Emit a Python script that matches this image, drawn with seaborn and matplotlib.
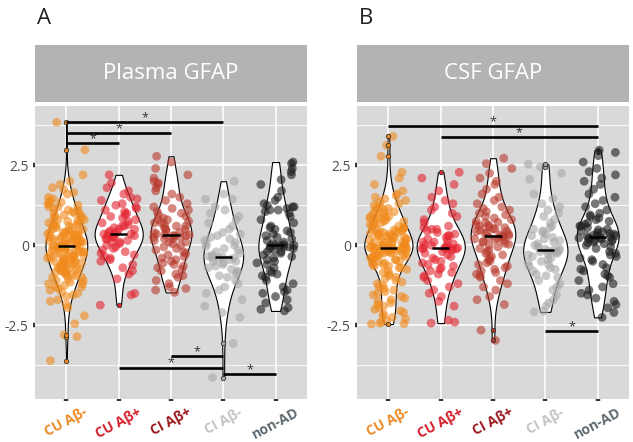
import numpy as np
import pandas as pd
import matplotlib.pyplot as plt
import seaborn as sns

# group order and colours
groups = ["CU Aβ-", "CU Aβ+", "CI Aβ+", "CI Aβ-", "non-AD"]
point_colors = ["#F08A1C", "#E3242F", "#B8392C", "#A8A8A8", "#1C1C1C"]
label_colors = ["#EE8A26", "#D61F2C", "#9B1A1F", "#C4C4C4", "#5E6A72"]
panel_titles = ["Plasma GFAP", "CSF GFAP"]
panel_letters = ["A", "B"]

# --- Plasma GFAP (z-scores) ---
plasma_cu_neg = [
    -3.6, -2.85, -2.8, -2.45, -2.2, -1.95, -1.85, -1.75, -1.7, -1.6,
    -1.55, -1.5, -1.45, -1.4, -1.35, -1.3, -1.3, -1.25, -1.2, -1.2,
    -1.15, -1.1, -1.1, -1.05, -1.0, -1.0, -0.95, -0.95, -0.9, -0.9,
    -0.85, -0.85, -0.8, -0.8, -0.8, -0.75, -0.75, -0.7, -0.7, -0.7,
    -0.65, -0.65, -0.6, -0.6, -0.6, -0.55, -0.55, -0.55, -0.5, -0.5,
    -0.5, -0.45, -0.45, -0.45, -0.4, -0.4, -0.4, -0.35, -0.35, -0.35,
    -0.3, -0.3, -0.3, -0.25, -0.25, -0.25, -0.2, -0.2, -0.2, -0.15,
    -0.15, -0.15, -0.1, -0.1, -0.1, -0.05, -0.05, -0.05, -0.03, -0.03,
    -0.02, 0.0, 0.0, 0.0, 0.05, 0.05, 0.05, 0.05, 0.1, 0.1,
    0.1, 0.1, 0.15, 0.15, 0.15, 0.15, 0.2, 0.2, 0.2, 0.2,
    0.25, 0.25, 0.25, 0.3, 0.3, 0.3, 0.3, 0.35, 0.35, 0.4,
    0.4, 0.4, 0.45, 0.45, 0.45, 0.5, 0.5, 0.55, 0.55, 0.6,
    0.6, 0.6, 0.65, 0.65, 0.7, 0.7, 0.75, 0.75, 0.8, 0.8,
    0.85, 0.85, 0.9, 0.9, 0.95, 1.0, 1.0, 1.0, 1.05, 1.1,
    1.1, 1.15, 1.2, 1.2, 1.25, 1.3, 1.3, 1.35, 1.4, 1.45,
    1.5, 1.6, 1.65, 1.75, 1.8, 1.9, 2.0, 2.2, 2.98, 3.84,
]
plasma_cu_pos = [
    -1.87, -1.55, -1.5, -1.05, -0.9, -0.8, -0.7, -0.6, -0.5, -0.45,
    -0.4, -0.35, -0.3, -0.25, -0.2, -0.15, -0.1, -0.05, 0.0, 0.05,
    0.1, 0.1, 0.15, 0.2, 0.2, 0.25, 0.25, 0.3, 0.3, 0.35,
    0.35, 0.35, 0.4, 0.4, 0.45, 0.5, 0.5, 0.55, 0.6, 0.6,
    0.65, 0.7, 0.75, 0.8, 0.85, 0.9, 0.95, 1.0, 1.05, 1.1,
    1.15, 1.2, 1.25, 1.3, 1.4, 1.45, 1.5, 1.6, 1.7, 1.8,
    1.95, 2.2,
]
plasma_ci_pos = [
    -1.47, -1.4, -1.35, -1.3, -1.2, -1.1, -1.0, -0.95, -0.9, -0.8,
    -0.75, -0.7, -0.65, -0.6, -0.55, -0.5, -0.45, -0.4, -0.35, -0.3,
    -0.25, -0.2, -0.15, -0.1, -0.05, 0.0, 0.05, 0.1, 0.1, 0.15,
    0.2, 0.2, 0.25, 0.25, 0.3, 0.3, 0.3, 0.32, 0.33, 0.35,
    0.4, 0.4, 0.45, 0.5, 0.5, 0.55, 0.6, 0.6, 0.65, 0.7,
    0.7, 0.75, 0.8, 0.8, 0.85, 0.9, 0.95, 1.0, 1.05, 1.1,
    1.15, 1.2, 1.3, 1.4, 1.5, 1.6, 1.7, 1.8, 1.9, 1.95,
    2.0, 2.1, 2.2, 2.4, 2.6, 2.78,
]
plasma_ci_neg = [
    -4.13, -3.06, -2.25, -2.1, -1.9, -1.7, -1.5, -1.4, -1.3, -1.2,
    -1.1, -1.0, -0.95, -0.9, -0.85, -0.8, -0.75, -0.7, -0.65, -0.6,
    -0.55, -0.5, -0.5, -0.45, -0.4, -0.4, -0.38, -0.36, -0.34, -0.3,
    -0.25, -0.2, -0.15, -0.1, -0.05, 0.0, 0.05, 0.1, 0.15, 0.2,
    0.25, 0.3, 0.35, 0.4, 0.5, 0.6, 0.7, 0.8, 0.9, 1.0,
    1.1, 1.2, 1.44, 1.44, 1.6, 2.0,
]
plasma_nonad = [
    -2.05, -2.0, -1.95, -1.8, -1.7, -1.6, -1.5, -1.45, -1.4, -1.3,
    -1.2, -1.1, -1.0, -0.95, -0.9, -0.85, -0.8, -0.7, -0.6, -0.55,
    -0.5, -0.45, -0.4, -0.35, -0.3, -0.25, -0.2, -0.2, -0.15, -0.1,
    -0.1, -0.05, -0.05, -0.02, 0.0, 0.0, 0.0, 0.02, 0.05, 0.1,
    0.15, 0.2, 0.25, 0.3, 0.35, 0.4, 0.45, 0.5, 0.55, 0.6,
    0.7, 0.8, 0.9, 1.0, 1.05, 1.1, 1.1, 1.15, 1.2, 1.2,
    1.25, 1.3, 1.4, 1.5, 1.7, 1.9, 2.05, 2.2, 2.3, 2.4,
    2.55, 2.6,
]

# --- CSF GFAP ---
csf_cu_neg = [
    -2.46, -2.45, -2.43, -2.4, -2.35, -2.3, -2.25, -2.2, -2.15, -2.1,
    -2.05, -2.0, -1.95, -1.9, -1.85, -1.8, -1.75, -1.7, -1.65, -1.6,
    -1.55, -1.5, -1.45, -1.4, -1.35, -1.3, -1.25, -1.2, -1.15, -1.1,
    -1.05, -1.0, -0.95, -0.9, -0.85, -0.8, -0.75, -0.7, -0.7, -0.65,
    -0.65, -0.6, -0.6, -0.55, -0.55, -0.5, -0.5, -0.45, -0.45, -0.4,
    -0.4, -0.4, -0.35, -0.35, -0.35, -0.3, -0.3, -0.3, -0.25, -0.25,
    -0.25, -0.2, -0.2, -0.2, -0.18, -0.15, -0.15, -0.15, -0.12, -0.12,
    -0.1, -0.1, -0.1, -0.1, -0.09, -0.09, -0.09, -0.08, -0.08, -0.08,
    -0.07, -0.06, -0.05, -0.04, -0.03, -0.02, 0.0, 0.0, 0.02, 0.05,
    0.05, 0.08, 0.1, 0.1, 0.12, 0.15, 0.15, 0.18, 0.2, 0.2,
    0.22, 0.25, 0.25, 0.28, 0.3, 0.3, 0.33, 0.35, 0.35, 0.38,
    0.4, 0.4, 0.42, 0.45, 0.45, 0.48, 0.5, 0.5, 0.5, 0.55,
    0.55, 0.6, 0.6, 0.65, 0.65, 0.7, 0.7, 0.75, 0.75, 0.8,
    0.8, 0.85, 0.85, 0.9, 0.9, 0.9, 0.95, 1.0, 1.0, 1.05,
    1.1, 1.1, 1.15, 1.2, 1.2, 1.25, 1.3, 1.35, 1.4, 1.45,
    1.5, 1.55, 1.6, 1.7, 1.9, 2.1, 2.28, 2.78, 3.12, 3.4,
]
csf_cu_pos = [
    -2.43, -2.4, -2.34, -1.9, -1.75, -1.6, -1.5, -1.4, -1.3, -1.2,
    -1.1, -1.0, -0.95, -0.9, -0.85, -0.8, -0.75, -0.7, -0.65, -0.6,
    -0.55, -0.5, -0.45, -0.4, -0.35, -0.3, -0.25, -0.2, -0.15, -0.12,
    -0.1, -0.1, -0.1, -0.1, -0.1, -0.08, -0.05, 0.0, 0.0, 0.0,
    0.05, 0.1, 0.1, 0.15, 0.2, 0.25, 0.3, 0.3, 0.35, 0.4,
    0.45, 0.5, 0.5, 0.55, 0.6, 0.7, 0.8, 0.9, 1.0, 1.1,
    1.2, 1.3, 1.4, 1.5, 1.7, 1.9, 2.1, 2.28,
]
csf_ci_pos = [
    -2.97, -2.65, -1.85, -1.7, -1.6, -1.4, -1.3, -1.2, -1.1, -1.0,
    -0.95, -0.9, -0.85, -0.8, -0.75, -0.7, -0.65, -0.6, -0.55, -0.5,
    -0.45, -0.4, -0.35, -0.3, -0.25, -0.2, -0.15, -0.1, -0.05, 0.0,
    0.03, 0.06, 0.1, 0.12, 0.15, 0.18, 0.2, 0.22, 0.25, 0.27,
    0.29, 0.3, 0.33, 0.35, 0.38, 0.4, 0.43, 0.45, 0.48, 0.5,
    0.52, 0.55, 0.58, 0.6, 0.63, 0.65, 0.7, 0.72, 0.75, 0.8,
    0.85, 0.9, 0.95, 1.0, 1.05, 1.1, 1.15, 1.2, 1.3, 1.4,
    1.5, 1.6, 1.75, 1.9, 2.0, 2.1, 2.25, 2.4, 2.55, 2.72,
]
csf_ci_neg = [
    -2.08, -2.05, -1.9, -1.8, -1.7, -1.55, -1.4, -1.3, -1.2, -1.1,
    -1.0, -0.95, -0.9, -0.8, -0.75, -0.7, -0.65, -0.6, -0.55, -0.5,
    -0.45, -0.4, -0.35, -0.3, -0.28, -0.25, -0.22, -0.2, -0.18, -0.16,
    -0.16, -0.12, -0.1, -0.05, 0.0, 0.05, 0.1, 0.15, 0.2, 0.25,
    0.3, 0.35, 0.4, 0.45, 0.5, 0.55, 0.6, 0.7, 0.8, 0.9,
    1.0, 1.1, 1.2, 1.3, 1.45, 1.6, 2.06, 2.25, 2.45, 2.53,
]
csf_nonad = [
    -2.25, -2.1, -1.95, -1.85, -1.75, -1.65, -1.55, -1.5, -1.4, -1.3,
    -1.2, -1.1, -1.0, -0.95, -0.9, -0.8, -0.75, -0.7, -0.6, -0.5,
    -0.45, -0.4, -0.35, -0.3, -0.25, -0.2, -0.1, -0.05, 0.0, 0.05,
    0.08, 0.1, 0.12, 0.15, 0.17, 0.19, 0.2, 0.22, 0.23, 0.24,
    0.26, 0.28, 0.3, 0.3, 0.32, 0.35, 0.37, 0.4, 0.42, 0.45,
    0.48, 0.5, 0.55, 0.6, 0.6, 0.65, 0.7, 0.75, 0.8, 0.85,
    0.9, 0.95, 1.0, 1.1, 1.2, 1.3, 1.4, 1.5, 1.6, 1.75,
    1.9, 2.0, 2.1, 2.2, 2.3, 2.4, 2.6, 2.8, 2.9, 2.97,
]

plasma_values = [plasma_cu_neg, plasma_cu_pos, plasma_ci_pos, plasma_ci_neg, plasma_nonad]
csf_values = [csf_cu_neg, csf_cu_pos, csf_ci_pos, csf_ci_neg, csf_nonad]

# significant pairs: (group, group, height of the bar)
plasma_sig = [("CU Aβ-", "CI Aβ-", 3.84), ("CU Aβ-", "CI Aβ+", 3.5), ("CU Aβ-", "CU Aβ+", 3.19),
              ("CI Aβ+", "CI Aβ-", -3.47), ("CU Aβ+", "CI Aβ-", -3.82), ("CI Aβ-", "non-AD", -4.03)]
csf_sig = [("CU Aβ-", "non-AD", 3.72), ("CU Aβ+", "non-AD", 3.375), ("CI Aβ-", "non-AD", -2.69)]


def to_long(values):
    rows = []
    for g, vals in zip(groups, values):
        for v in vals:
            rows.append({"group": g, "value": v})
    return pd.DataFrame(rows)


plt.rcParams["font.family"] = ["Open Sans", "DejaVu Sans"]
np.random.seed(7)

W, H = 633, 442
fig = plt.figure(figsize=(W / 100, H / 100), dpi=100)

panel_px = [(35, 307), (357, 629)]  # left/right pixel edges
top_px, bot_px = 106, 399
strip_top, strip_bot = 45, 102

for k, (values, sig) in enumerate([(plasma_values, plasma_sig), (csf_values, csf_sig)]):
    l, r = panel_px[k]
    ax = fig.add_axes([l / W, 1 - bot_px / H, (r - l) / W, (bot_px - top_px) / H])
    df = to_long(values)

    sns.violinplot(data=df, x="group", y="value", order=groups, color="white", saturation=1,
                   inner=None, cut=0, density_norm="area", width=0.92, bw_adjust=1.0,
                   linecolor="black", linewidth=0.8, ax=ax)
    sns.stripplot(data=df, x="group", y="value", hue="group", order=groups, hue_order=groups,
                  palette=point_colors, jitter=0.36, size=6.3, alpha=0.6, linewidth=0,
                  legend=False, ax=ax, zorder=3)
    sns.boxplot(data=df, x="group", y="value", hue="group", order=groups, hue_order=groups,
                palette=point_colors, width=0.33, dodge=False, legend=False, saturation=1,
                boxprops=dict(visible=False), whiskerprops=dict(visible=False),
                capprops=dict(visible=False),
                medianprops=dict(color="black", linewidth=1.8),
                flierprops=dict(marker="o", markersize=3.2, markeredgecolor="#333333",
                                markeredgewidth=0.6),
                ax=ax, zorder=4)
    for cont, col in zip(ax.containers, point_colors):
        for f in getattr(cont, "fliers", []):
            f.set_markerfacecolor(col)

    for g1, g2, y in sig:
        i1, i2 = groups.index(g1), groups.index(g2)
        ax.plot([i1, i2], [y, y], color="black", lw=1.9, solid_capstyle="butt", zorder=5)
        ax.text((i1 + i2) / 2, y + 0.14, "*", ha="center", va="center", fontsize=9,
                color="#333333", zorder=5)

    ax.set_xlim(-0.6, 4.6)
    ax.set_ylim(-4.8, 4.35)
    ax.set_facecolor("#D9D9D9")
    for s in ax.spines.values():
        s.set_visible(False)
    ax.set_axisbelow(True)
    ax.set_yticks([-2.5, 0, 2.5])
    ax.set_yticklabels(["-2.5", "0", "2.5"])
    ax.set_yticks([-3.75, -1.25, 1.25, 3.75], minor=True)
    ax.grid(True, which="major", color="white", lw=1.1)
    ax.grid(True, which="minor", axis="y", color="white", lw=0.6)
    ax.tick_params(which="minor", length=0)
    ax.tick_params(which="major", length=1.5, width=3.2, color="#333333", labelsize=10,
                   labelcolor="#4D4D4D", pad=3)
    ax.set_xticks(range(len(groups)))
    ax.set_xticklabels(groups, rotation=28, ha="center", va="top", fontweight="bold",
                       fontsize=10)
    for lab, col in zip(ax.get_xticklabels(), label_colors):
        lab.set_color(col)
    ax.set_xlabel("")
    ax.set_ylabel("")

    # facet strip
    sax = fig.add_axes([l / W, 1 - strip_bot / H, (r - l) / W, (strip_bot - strip_top) / H])
    sax.set_facecolor("#B3B3B3")
    sax.set_xticks([])
    sax.set_yticks([])
    for s in sax.spines.values():
        s.set_visible(False)
    sax.text(0.5, 0.5, panel_titles[k], ha="center", va="center", color="white",
             fontsize=16, transform=sax.transAxes)

    fig.text((l + 2) / W, 1 - 24 / H, panel_letters[k], fontsize=16, color="#222222",
             ha="left", va="baseline")

fig.savefig("out.png", dpi=100)
